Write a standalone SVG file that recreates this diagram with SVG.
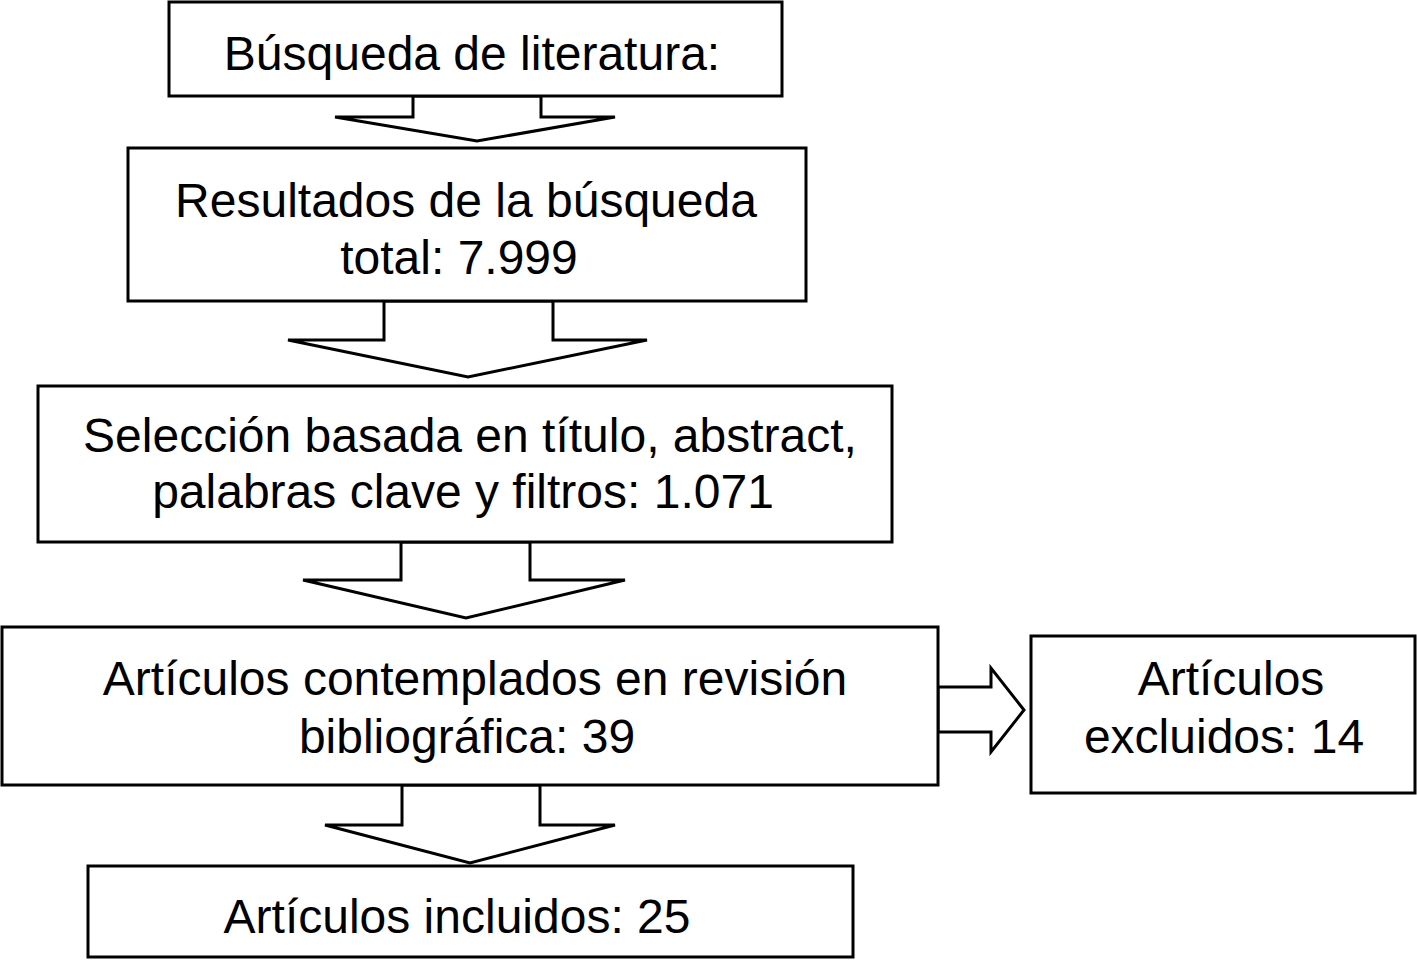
<svg xmlns="http://www.w3.org/2000/svg" width="1417" height="960" viewBox="0 0 1417 960">
<style>
.box{fill:#fff;stroke:#000;stroke-width:3}
.arr{fill:#fff;stroke:#000;stroke-width:3;stroke-linejoin:miter}
text{font-family:"Liberation Sans",Arial,sans-serif;font-size:48px;fill:#000;text-anchor:middle}
</style>
<rect width="1417" height="960" fill="#fff"/>
<g id="connectors">
<polygon class="arr" points="413,96 541,96 541,117 615,117 477,141 335,117 413,117"/>
<polygon class="arr" points="384,301 553,301 553,340 647,340 468,377 288,340 384,340"/>
<polygon class="arr" points="401,542 530,542 530,580 625,580 466,618 303,580 401,580"/>
<polygon class="arr" points="402,785 540,785 540,825 615,825 470,863 325,825 402,825"/>
<polygon class="arr" points="938,687 991,687 991,668 1024,710 991,752 991,732 938,732"/>
</g>
<g id="n1"><rect class="box" x="169" y="2" width="613" height="94"/><text x="472" y="70">Búsqueda de literatura:</text></g>
<g id="n2"><rect class="box" x="128" y="148" width="678" height="153"/><text x="466" y="217">Resultados de la búsqueda</text><text x="459" y="274">total: 7.999</text></g>
<g id="n3"><rect class="box" x="38" y="386" width="854" height="156"/><text x="470" y="452">Selección basada en título, abstract,</text><text x="463" y="508">palabras clave y filtros: 1.071</text></g>
<g id="n4"><rect class="box" x="2" y="627" width="936" height="158"/><text x="475" y="695">Artículos contemplados en revisión</text><text x="467" y="753">bibliográfica: 39</text></g>
<g id="n5"><rect class="box" x="1031" y="636" width="384" height="157"/><text x="1231" y="695">Artículos</text><text x="1224" y="753">excluidos: 14</text></g>
<g id="n6"><rect class="box" x="88" y="866" width="765" height="91"/><text x="457" y="933">Artículos incluidos: 25</text></g>
</svg>
